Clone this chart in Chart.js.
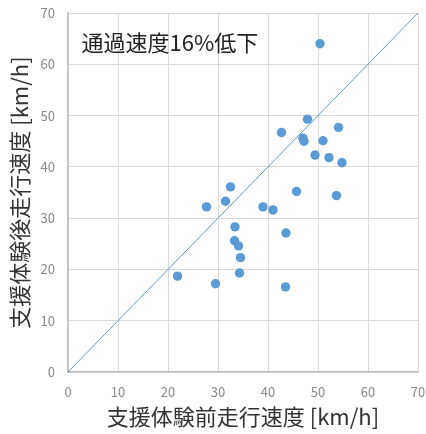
<!DOCTYPE html>
<html>
<head>
<meta charset="utf-8">
<script src="https://cdn.jsdelivr.net/npm/chart.js@4"></script>
<style>
  html, body { margin: 0; padding: 0; background: #fff; }
  #wrap { width: 426px; height: 434px; }
</style>
</head>
<body>
<div id="wrap"><canvas id="chart" width="426" height="434"></canvas></div>
<script>
// speeds before / after the support experience [km/h]
const beforeSpeeds = [50.4, 47.9, 42.7, 54.1, 47.0, 47.2, 51.0, 49.4, 52.2, 54.8, 32.5, 45.7, 53.7,
                      31.5, 27.7, 39.0, 41.0, 33.4, 43.6, 33.3, 34.1, 34.5, 21.9, 34.3, 29.5, 43.5];
const afterSpeeds  = [64.0, 49.3, 46.7, 47.7, 45.6, 45.0, 45.1, 42.3, 41.8, 40.8, 36.1, 35.2, 34.4,
                      33.3, 32.2, 32.2, 31.6, 28.3, 27.1, 25.6, 24.6, 22.3, 18.7, 19.3, 17.2, 16.6];
const diagX = [0, 70];
const diagY = [0, 70];
const tickValues = [0, 10, 20, 30, 40, 50, 60, 70];
const xTitle = '支援体験前走行速度 [km/h]';
const yTitle = '支援体験後走行速度 [km/h]';
const note = '通過速度16%低下';
const notePos = {x: 2.7, y: 64.3};

const ctx = document.getElementById('chart').getContext('2d');
const cjk = '"Noto Sans CJK JP", "Noto Sans", sans-serif';

const noteLabel = {
    id: 'noteLabel',
    afterDatasetsDraw(chart) {
        const c = chart.ctx;
        c.save();
        c.font = '22px ' + cjk;
        c.fillStyle = '#222';
        c.textBaseline = 'middle';
        c.fillText(note, chart.scales.x.getPixelForValue(notePos.x), chart.scales.y.getPixelForValue(notePos.y));
        c.restore();
    }
};

const points = beforeSpeeds.map((x, i) => ({x: x, y: afterSpeeds[i]}));
const diagonal = diagX.map((x, i) => ({x: x, y: diagY[i]}));

new Chart(ctx, {
    type: 'scatter',
    data: {
        datasets: [{
            data: points,
            backgroundColor: '#5b9bd5',
            borderColor: '#5b9bd5',
            pointRadius: 4.7,
            borderWidth: 0
        }, {
            type: 'line',
            data: diagonal,
            borderColor: '#5b9bd5',
            borderWidth: 1,
            pointRadius: 0,
            fill: false
        }]
    },
    options: {
        responsive: false,
        animation: false,
        layout: {padding: {left: 0, right: 8, top: 13, bottom: 0}},
        plugins: {legend: {display: false}, tooltip: {enabled: false}},
        scales: {
            x: {
                type: 'linear',
                min: 0, max: 70,
                afterBuildTicks: s => { s.ticks = tickValues.map(v => ({value: v})); },
                afterFit: s => { s.height = 62; s.paddingLeft = 0; s.paddingRight = 0; },
                grid: {color: '#d9d9d9', drawTicks: false},
                border: {color: '#bfbfbf', width: 1.5},
                ticks: {color: '#888', font: {size: 13, family: cjk}, padding: 12, maxRotation: 0},
                title: {display: true, text: xTitle, color: '#333', font: {size: 22, family: cjk}, padding: {top: 0, bottom: 4}}
            },
            y: {
                type: 'linear',
                min: 0, max: 70,
                afterBuildTicks: s => { s.ticks = tickValues.map(v => ({value: v})); },
                afterFit: s => { s.width = 68; s.paddingTop = 0; s.paddingBottom = 0; },
                grid: {color: '#d9d9d9', drawTicks: false},
                border: {color: '#bfbfbf', width: 1.5},
                ticks: {color: '#888', font: {size: 13, family: cjk}, padding: 13},
                title: {display: true, text: yTitle, color: '#333', font: {size: 22, family: cjk}, padding: {top: 6, bottom: 0}}
            }
        }
    },
    plugins: [noteLabel]
});
</script>
</body>
</html>
